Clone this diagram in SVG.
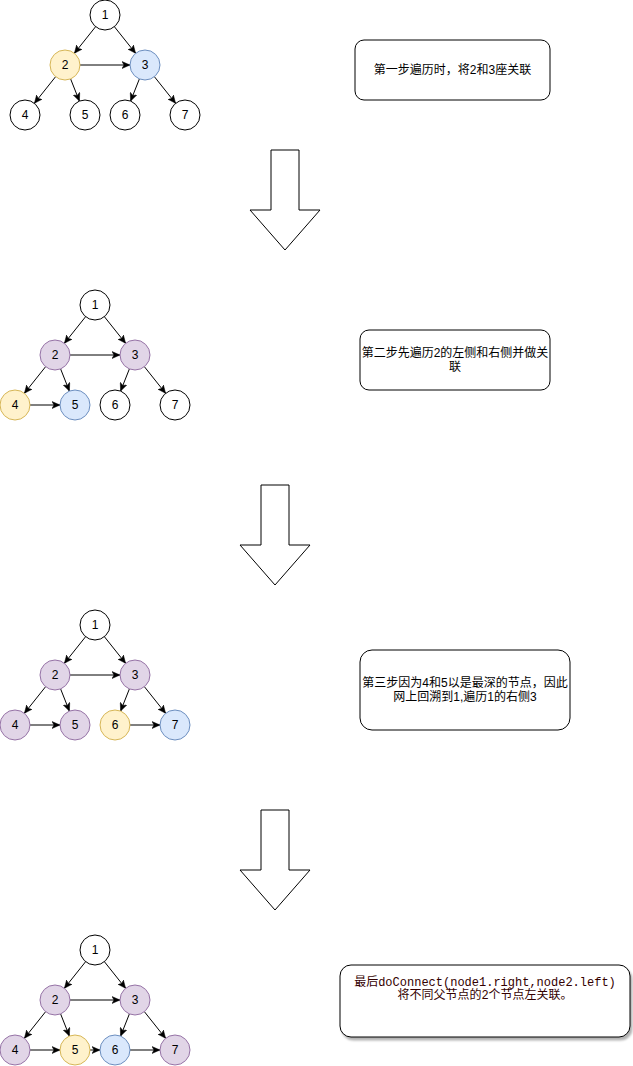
<svg xmlns="http://www.w3.org/2000/svg" width="633" height="1066" viewBox="0 0 633 1066">
<style>
.bg{fill:#ffffff}
circle{stroke-width:1}
.w{fill:#ffffff;stroke:#000000}
.y{fill:#fff2cc;stroke:#d6b656}
.b{fill:#dae8fc;stroke:#6c8ebf}
.p{fill:#e1d5e7;stroke:#9673a6}
text{font-family:"Liberation Sans","Noto Sans CJK SC",sans-serif;font-size:12px;fill:#000000;text-anchor:middle}
.e{fill:none;stroke:#000000;stroke-width:1;marker-end:url(#arr)}
.box{fill:#ffffff;stroke:#000000;stroke-width:1}
.big{fill:#ffffff;stroke:#000000;stroke-width:1}
.code{font-family:"Liberation Mono","Noto Sans CJK SC",monospace;fill:#330000}
</style>
<defs>
<marker id="arr" markerUnits="userSpaceOnUse" viewBox="0 0 8 8" markerWidth="8" markerHeight="8" refX="8" refY="4" orient="auto">
<path d="M0,0.5 L8,4 L0,7.5 L2,4 Z" fill="#000000" stroke="#000000" stroke-width="0.5"/>
</marker>
<filter id="sh" x="-10%" y="-10%" width="130%" height="140%">
<feDropShadow dx="2" dy="3" stdDeviation="1" flood-color="#000000" flood-opacity="0.3"/>
</filter>
</defs>
<rect class="bg" x="0" y="0" width="633" height="1066"/>

<g id="connectors">
<g transform="translate(105,15)">
<path class="e" d="M-9.4,11.7 L-30.6,38.3"/>
<path class="e" d="M9.4,11.7 L30.6,38.3"/>
<path class="e" d="M-25,50 L25,50"/>
<path class="e" d="M-49.4,61.7 L-70.6,88.3"/>
<path class="e" d="M-34.4,63.9 L-25.6,86.1"/>
<path class="e" d="M34.4,63.9 L25.6,86.1"/>
<path class="e" d="M49.4,61.7 L70.6,88.3"/>
</g>
<g transform="translate(95,305)">
<path class="e" d="M-9.4,11.7 L-30.6,38.3"/>
<path class="e" d="M9.4,11.7 L30.6,38.3"/>
<path class="e" d="M-25,50 L25,50"/>
<path class="e" d="M-49.4,61.7 L-70.6,88.3"/>
<path class="e" d="M-34.4,63.9 L-25.6,86.1"/>
<path class="e" d="M34.4,63.9 L25.6,86.1"/>
<path class="e" d="M49.4,61.7 L70.6,88.3"/>
<path class="e" d="M-65,100 L-35,100"/>
</g>
<g transform="translate(95,625)">
<path class="e" d="M-9.4,11.7 L-30.6,38.3"/>
<path class="e" d="M9.4,11.7 L30.6,38.3"/>
<path class="e" d="M-25,50 L25,50"/>
<path class="e" d="M-49.4,61.7 L-70.6,88.3"/>
<path class="e" d="M-34.4,63.9 L-25.6,86.1"/>
<path class="e" d="M34.4,63.9 L25.6,86.1"/>
<path class="e" d="M49.4,61.7 L70.6,88.3"/>
<path class="e" d="M-65,100 L-35,100"/>
<path class="e" d="M35,100 L65,100"/>
</g>
<g transform="translate(95,950)">
<path class="e" d="M-9.4,11.7 L-30.6,38.3"/>
<path class="e" d="M9.4,11.7 L30.6,38.3"/>
<path class="e" d="M-25,50 L25,50"/>
<path class="e" d="M-49.4,61.7 L-70.6,88.3"/>
<path class="e" d="M-34.4,63.9 L-25.6,86.1"/>
<path class="e" d="M34.4,63.9 L25.6,86.1"/>
<path class="e" d="M49.4,61.7 L70.6,88.3"/>
<path class="e" d="M-65,100 L-35,100"/>
<path class="e" d="M-5,100 L5,100"/>
<path class="e" d="M35,100 L65,100"/>
</g>
</g>

<!-- Tree 1 -->
<g id="t1n1"><circle class="w" cx="105" cy="15" r="15"/><text x="105" y="19">1</text></g>
<g id="t1n2"><circle class="y" cx="65" cy="65" r="15"/><text x="65" y="69">2</text></g>
<g id="t1n3"><circle class="b" cx="145" cy="65" r="15"/><text x="145" y="69">3</text></g>
<g id="t1n4"><circle class="w" cx="25" cy="115" r="15"/><text x="25" y="119">4</text></g>
<g id="t1n5"><circle class="w" cx="85" cy="115" r="15"/><text x="85" y="119">5</text></g>
<g id="t1n6"><circle class="w" cx="125" cy="115" r="15"/><text x="125" y="119">6</text></g>
<g id="t1n7"><circle class="w" cx="185" cy="115" r="15"/><text x="185" y="119">7</text></g>

<!-- Tree 2 -->
<g id="t2n1"><circle class="w" cx="95" cy="305" r="15"/><text x="95" y="309">1</text></g>
<g id="t2n2"><circle class="p" cx="55" cy="355" r="15"/><text x="55" y="359">2</text></g>
<g id="t2n3"><circle class="p" cx="135" cy="355" r="15"/><text x="135" y="359">3</text></g>
<g id="t2n4"><circle class="y" cx="15" cy="405" r="15"/><text x="15" y="409">4</text></g>
<g id="t2n5"><circle class="b" cx="75" cy="405" r="15"/><text x="75" y="409">5</text></g>
<g id="t2n6"><circle class="w" cx="115" cy="405" r="15"/><text x="115" y="409">6</text></g>
<g id="t2n7"><circle class="w" cx="175" cy="405" r="15"/><text x="175" y="409">7</text></g>

<!-- Tree 3 -->
<g id="t3n1"><circle class="w" cx="95" cy="625" r="15"/><text x="95" y="629">1</text></g>
<g id="t3n2"><circle class="p" cx="55" cy="675" r="15"/><text x="55" y="679">2</text></g>
<g id="t3n3"><circle class="p" cx="135" cy="675" r="15"/><text x="135" y="679">3</text></g>
<g id="t3n4"><circle class="p" cx="15" cy="725" r="15"/><text x="15" y="729">4</text></g>
<g id="t3n5"><circle class="p" cx="75" cy="725" r="15"/><text x="75" y="729">5</text></g>
<g id="t3n6"><circle class="y" cx="115" cy="725" r="15"/><text x="115" y="729">6</text></g>
<g id="t3n7"><circle class="b" cx="175" cy="725" r="15"/><text x="175" y="729">7</text></g>

<!-- Tree 4 -->
<g id="t4n1"><circle class="w" cx="95" cy="950" r="15"/><text x="95" y="954">1</text></g>
<g id="t4n2"><circle class="p" cx="55" cy="1000" r="15"/><text x="55" y="1004">2</text></g>
<g id="t4n3"><circle class="p" cx="135" cy="1000" r="15"/><text x="135" y="1004">3</text></g>
<g id="t4n4"><circle class="p" cx="15" cy="1050" r="15"/><text x="15" y="1054">4</text></g>
<g id="t4n5"><circle class="y" cx="75" cy="1050" r="15"/><text x="75" y="1054">5</text></g>
<g id="t4n6"><circle class="b" cx="115" cy="1050" r="15"/><text x="115" y="1054">6</text></g>
<g id="t4n7"><circle class="p" cx="175" cy="1050" r="15"/><text x="175" y="1054">7</text></g>

<!-- Big arrows -->
<g id="arrow1"><path class="big" d="M271,150 L299,150 L299,210 L320,210 L285,250 L250,210 L271,210 Z"/></g>
<g id="arrow2"><path class="big" d="M261,485 L289,485 L289,545 L310,545 L275,585 L240,545 L261,545 Z"/></g>
<g id="arrow3"><path class="big" d="M261,810 L289,810 L289,870 L310,870 L275,910 L240,870 L261,870 Z"/></g>

<!-- Text boxes -->
<g id="note1"><rect class="box" x="355" y="40" width="195" height="60" rx="9" ry="9"/>
<text x="452.5" y="74">第一步遍历时，将2和3座关联</text></g>
<g id="note2"><rect class="box" x="360" y="330" width="190" height="60" rx="9" ry="9"/>
<text x="455" y="357">第二步先遍历2的左侧和右侧并做关</text>
<text x="455" y="371">联</text></g>
<g id="note3"><rect class="box" x="360" y="650" width="210" height="80" rx="12" ry="12"/>
<text x="465" y="687">第三步因为4和5以是最深的节点，因此</text>
<text x="465" y="701">网上回溯到1,遍历1的右侧3</text></g>
<g id="note4"><rect class="box" x="340" y="965" width="290" height="72" rx="11" ry="11" filter="url(#sh)"/>
<text class="code" x="485" y="986">最后doConnect(node1.right,node2.left)</text>
<text class="code" x="485" y="999">将不同父节点的2个节点左关联。</text></g>
</svg>
